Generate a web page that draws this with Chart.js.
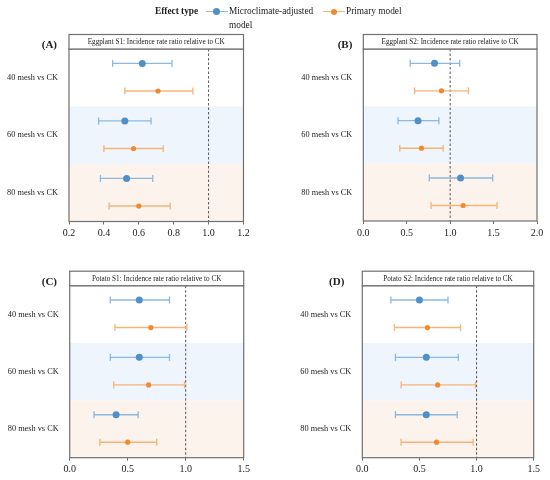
<!DOCTYPE html>
<html>
<head>
<meta charset="utf-8">
<script src="https://cdn.jsdelivr.net/npm/chart.js@4.4.1/dist/chart.umd.min.js"></script>
<style>
  body { margin: 0; background: #fff; }
  #wrap { position: relative; width: 550px; height: 480px; font-family: "Liberation Serif", serif; }
  canvas { position: absolute; }
  .lg { position: absolute; font-size: 9.3px; color: #222; line-height: 14px; }
  .mk { position: absolute; height: 1.5px; }
  .dot { position: absolute; border-radius: 50%; }
</style>
</head>
<body>
<div id="wrap">
  <canvas id="cA" width="275" height="240" style="left:0;top:0"></canvas>
  <canvas id="cB" width="275" height="240" style="left:275px;top:0"></canvas>
  <canvas id="cC" width="275" height="240" style="left:0;top:240px"></canvas>
  <canvas id="cD" width="275" height="240" style="left:275px;top:240px"></canvas>

  <div class="lg" style="left:155px;top:4px;font-weight:bold;">Effect type</div>
  <div class="mk" style="left:206px;top:10.5px;width:22px;background:#8cb9e0"></div>
  <div class="dot" style="left:213px;top:8px;width:7px;height:7px;background:#5090c8"></div>
  <div class="lg" style="left:229px;top:4px;">Microclimate-adjusted<br>model</div>
  <div class="mk" style="left:323px;top:10.5px;width:22px;background:#f5b478"></div>
  <div class="dot" style="left:331px;top:8.5px;width:6px;height:6px;background:#f08a30"></div>
  <div class="lg" style="left:346px;top:4px;">Primary model</div>
</div>
<script>
const categories = ["40 mesh vs CK", "60 mesh vs CK", "80 mesh vs CK"];

// [estimate, lower, upper] per category
const eggS1Adjusted = [[0.62, 0.45, 0.79], [0.52, 0.37, 0.67], [0.53, 0.38, 0.68]];
const eggS1Primary  = [[0.71, 0.52, 0.91], [0.57, 0.40, 0.74], [0.60, 0.43, 0.78]];
const eggS2Adjusted = [[0.82, 0.54, 1.11], [0.63, 0.40, 0.87], [1.12, 0.76, 1.49]];
const eggS2Primary  = [[0.90, 0.59, 1.21], [0.67, 0.42, 0.92], [1.15, 0.78, 1.54]];
const potS1Adjusted = [[0.60, 0.35, 0.86], [0.60, 0.35, 0.86], [0.40, 0.21, 0.59]];
const potS1Primary  = [[0.70, 0.39, 1.01], [0.68, 0.38, 0.99], [0.50, 0.26, 0.75]];
const potS2Adjusted = [[0.50, 0.25, 0.75], [0.56, 0.29, 0.84], [0.56, 0.29, 0.83]];
const potS2Primary  = [[0.57, 0.28, 0.86], [0.66, 0.34, 0.99], [0.65, 0.34, 0.97]];

const blueLine = "#8cb9e0", blueDot = "#5090c8";
const orangeLine = "#f5b478", orangeDot = "#f08a30";

function rows(vals, offset, lineCol, dotCol, dotR) {
    return vals.map((v, i) => ({
        type: "line",
        data: [{x: v[1], y: i + offset}, {x: v[0], y: i + offset}, {x: v[2], y: i + offset}],
        borderColor: lineCol,
        borderWidth: 1.4,
        pointStyle: ["line", "circle", "line"],
        rotation: [90, 0, 90],
        pointRadius: [3.5, dotR, 3.5],
        pointBorderWidth: [1.3, 0, 1.3],
        pointBorderColor: [lineCol, dotCol, lineCol],
        pointBackgroundColor: dotCol,
        clip: false
    }));
}

const panelPlugin = {
    id: "panel",
    beforeDatasetsDraw(chart, args, opts) {
        const {ctx, chartArea: a, scales} = chart;
        const y = scales.y, x = scales.x;
        ctx.save();
        ctx.fillStyle = "#eef5fc";
        ctx.fillRect(a.left, y.getPixelForValue(1), a.width, y.getPixelForValue(2) - y.getPixelForValue(1));
        ctx.fillStyle = "#fbf3ec";
        ctx.fillRect(a.left, y.getPixelForValue(2), a.width, y.getPixelForValue(3) - y.getPixelForValue(2));
        // reference line
        const px = x.getPixelForValue(1);
        ctx.strokeStyle = "#555";
        ctx.lineWidth = 1;
        ctx.setLineDash([2.5, 2]);
        ctx.beginPath();
        ctx.moveTo(px, a.top);
        ctx.lineTo(px, a.bottom);
        ctx.stroke();
        ctx.restore();
    },
    afterDraw(chart, args, opts) {
        const {ctx, chartArea: a} = chart;
        ctx.save();
        ctx.strokeStyle = "#707070";
        ctx.lineWidth = 1.2;
        ctx.strokeRect(a.left, a.top, a.width, a.height);
        // strip
        ctx.fillStyle = "#fff";
        ctx.fillRect(a.left, a.top - 14.5, a.width, 14.5);
        ctx.strokeRect(a.left, a.top - 14.5, a.width, 14.5);
        ctx.fillStyle = "#222";
        ctx.font = "7.2px 'Liberation Serif'";
        ctx.textAlign = "center";
        ctx.textBaseline = "middle";
        ctx.fillText(opts.title, (a.left + a.right) / 2, a.top - 7);
        // panel tag
        ctx.font = "bold 11px 'Liberation Serif'";
        ctx.textAlign = "right";
        ctx.fillText(opts.tag, a.left - opts.tagDx, a.top - 3.4);
        ctx.restore();
    }
};

function makeChart(id, adjusted, primary, title, tag, tagDx, xMin, xMax, step, pad, yWidth, xHeight) {
    return new Chart(document.getElementById(id), {
        data: {
            datasets: [
                ...rows(adjusted, 0.25, blueLine, blueDot, 3.5),
                ...rows(primary, 0.73, orangeLine, orangeDot, 2.6)
            ]
        },
        options: {
            responsive: false,
            animation: false,
            layout: {padding: pad},
            plugins: {
                legend: {display: false},
                tooltip: {enabled: false},
                panel: {title: title, tag: tag, tagDx: tagDx}
            },
            scales: {
                x: {
                    type: "linear",
                    min: xMin,
                    max: xMax,
                    border: {display: false},
                    grid: {drawOnChartArea: false, drawTicks: true, tickLength: 3, color: "#707070"},
                    ticks: {
                        stepSize: step,
                        padding: 3,
                        color: "#222",
                        font: {family: "Liberation Serif", size: 10},
                        callback: v => v.toFixed(1)
                    },
                    afterFit: s => { s.height = xHeight; }
                },
                y: {
                    type: "linear",
                    reverse: true,
                    min: 0,
                    max: 3,
                    border: {display: false},
                    grid: {display: false, drawTicks: false},
                    afterBuildTicks: s => { s.ticks = [0.5, 1.5, 2.5].map(v => ({value: v})); },
                    ticks: {
                        padding: 11,
                        color: "#222",
                        font: {family: "Liberation Serif", size: 8.3},
                        callback: v => categories[Math.floor(v)]
                    },
                    afterFit: s => { s.width = yWidth; }
                }
            }
        },
        plugins: [panelPlugin]
    });
}

makeChart("cA", eggS1Adjusted, eggS1Primary, "Eggplant S1: Incidence rate ratio relative to CK", "(A)", 12,
    0.2, 1.2, 0.2, {left: 0, right: 31.5, top: 49, bottom: 0}, 69, 18.5);
makeChart("cB", eggS2Adjusted, eggS2Primary, "Eggplant S2: Incidence rate ratio relative to CK", "(B)", 11,
    0, 2, 0.5, {left: 0, right: 13, top: 49, bottom: 0}, 88.3, 19);
makeChart("cC", potS1Adjusted, potS1Primary, "Potato S1: Incidence rate ratio relative to CK", "(C)", 12.7,
    0, 1.5, 0.5, {left: 0, right: 31.3, top: 45.7, bottom: 0}, 69.7, 22.3);
makeChart("cD", potS2Adjusted, potS2Primary, "Potato S2: Incidence rate ratio relative to CK", "(D)", 18,
    0, 1.5, 0.5, {left: 0, right: 16.3, top: 45.7, bottom: 0}, 87.3, 22.3);
</script>
</body>
</html>
